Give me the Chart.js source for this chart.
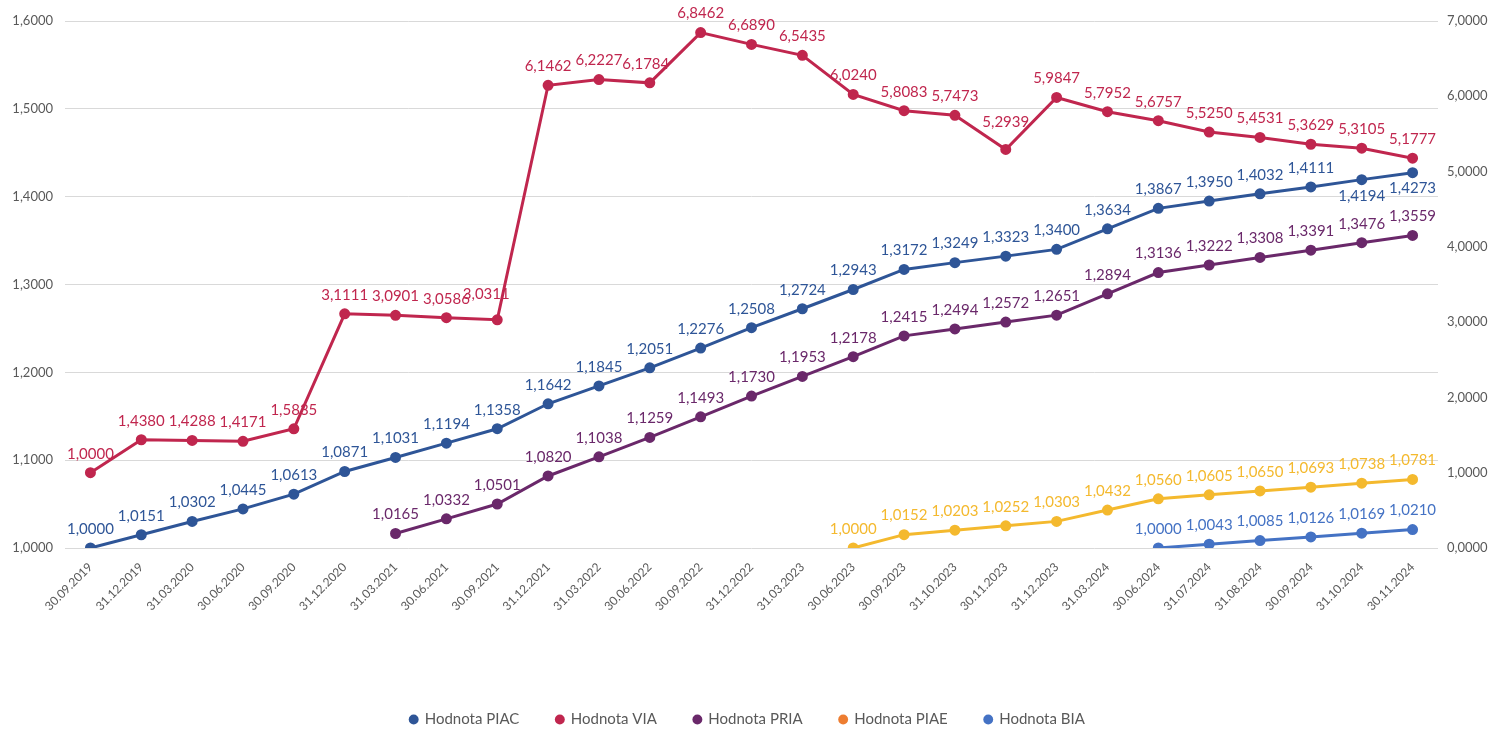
<!DOCTYPE html>
<html>
<head>
<meta charset="utf-8">
<script src="https://cdn.jsdelivr.net/npm/chart.js@4"></script>
<style>
  body { margin: 0; background: #fff; }
  .canvas { width: 1495px; height: 729px; }
</style>
</head>
<body>
<div class="canvas"><canvas id="chart"></canvas></div>
<script>
// data
const labels = [
  "30.09.2019", "31.12.2019", "31.03.2020", "30.06.2020", "30.09.2020",
  "31.12.2020", "31.03.2021", "30.06.2021", "30.09.2021", "31.12.2021",
  "31.03.2022", "30.06.2022", "30.09.2022", "31.12.2022", "31.03.2023",
  "30.06.2023", "30.09.2023", "31.10.2023", "30.11.2023", "31.12.2023",
  "31.03.2024", "30.06.2024", "31.07.2024", "31.08.2024", "30.09.2024",
  "31.10.2024", "30.11.2024",
];

const piac = [
  1.0000, 1.0151, 1.0302, 1.0445, 1.0613, 1.0871, 1.1031, 1.1194, 1.1358,
  1.1642, 1.1845, 1.2051, 1.2276, 1.2508, 1.2724, 1.2943, 1.3172, 1.3249,
  1.3323, 1.3400, 1.3634, 1.3867, 1.3950, 1.4032, 1.4111, 1.4194, 1.4273,
];

const via = [
  1.0000, 1.4380, 1.4288, 1.4171, 1.5835, 3.1111, 3.0901, 3.0586, 3.0311,
  6.1462, 6.2227, 6.1784, 6.8462, 6.6890, 6.5435, 6.0240, 5.8083, 5.7473,
  5.2939, 5.9847, 5.7952, 5.6757, 5.5250, 5.4531, 5.3629, 5.3105, 5.1777,
];

const pria = [
  null, null, null, null, null, null, 1.0165, 1.0332, 1.0501,
  1.0820, 1.1038, 1.1259, 1.1493, 1.1730, 1.1953, 1.2178, 1.2415, 1.2494,
  1.2572, 1.2651, 1.2894, 1.3136, 1.3222, 1.3308, 1.3391, 1.3476, 1.3559,
];

const piae = [
  null, null, null, null, null, null, null, null, null,
  null, null, null, null, null, null, 1.0000, 1.0152, 1.0203,
  1.0252, 1.0303, 1.0432, 1.0560, 1.0605, 1.0650, 1.0693, 1.0738, 1.0781,
];

const bia = [
  null, null, null, null, null, null, null, null, null,
  null, null, null, null, null, null, null, null, null,
  null, null, null, 1.0000, 1.0043, 1.0085, 1.0126, 1.0169, 1.0210,
];

const fmt = (v) => v.toFixed(4).replace(".", ",");

// a few labels excel moved away from the default spot
const labelShift = {
  "0:25": [0, 36],
  "0:26": [0, 34],
  "1:8": [-11, -7],
  "1:11": [-4, 0],
  "1:18": [0, -8],
};

const makeSet = (label, data, color, axis, legendColor) => ({
  label: label,
  data: data,
  borderColor: color,
  backgroundColor: color,
  pointBackgroundColor: color,
  pointBorderColor: color,
  legendColor: legendColor || color,
  borderWidth: 3,
  pointRadius: 4,
  pointHoverRadius: 4,
  tension: 0,
  yAxisID: axis,
});

// draw the value above each point
const valueLabels = {
  id: "valueLabels",
  afterDatasetsDraw(chart) {
    const ctx = chart.ctx;
    ctx.save();
    ctx.font = "15px Lato";
    ctx.textAlign = "center";
    ctx.textBaseline = "middle";
    chart.data.datasets.forEach((ds, di) => {
      const meta = chart.getDatasetMeta(di);
      meta.data.forEach((pt, i) => {
        const v = ds.data[i];
        if (v === null || v === undefined) return;
        const s = labelShift[di + ":" + i] || [0, 0];
        ctx.fillStyle = ds.borderColor;
        ctx.fillText(fmt(v), pt.x + s[0], pt.y - 19 + s[1]);
      });
    });
    ctx.restore();
  },
};

const config = {
  type: "line",
  data: {
    labels: labels,
    datasets: [
      makeSet("Hodnota PIAC", piac, "#2E5597", "y"),
      makeSet("Hodnota VIA", via, "#C0264E", "y1"),
      makeSet("Hodnota PRIA", pria, "#6A286A", "y"),
      makeSet("Hodnota PIAE", piae, "#F4B92E", "y", "#ED7D31"),
      makeSet("Hodnota BIA", bia, "#4472C4", "y"),
    ],
  },
  options: {
    responsive: true,
    maintainAspectRatio: false,
    animation: false,
    layout: { padding: { top: 21, left: 0, right: 0, bottom: -8 } },
    scales: {
      x: {
        offset: true,
        grid: { display: false },
        border: { display: false },
        ticks: {
          color: "#595959",
          font: { family: "Lato", size: 12 },
          minRotation: 45,
          maxRotation: 45,
          padding: 4,
        },
        afterFit: (scale) => { scale.height = 127; },
      },
      y: {
        position: "left",
        min: 1,
        max: 1.6,
        ticks: {
          stepSize: 0.1,
          color: "#595959",
          font: { family: "Lato", size: 13 },
          padding: 12,
          callback: (v) => fmt(v),
        },
        grid: { color: "#D9D9D9", drawTicks: false },
        border: { display: false },
        afterFit: (scale) => { scale.width = 65; },
      },
      y1: {
        position: "right",
        min: 0,
        max: 7,
        ticks: {
          stepSize: 1,
          color: "#595959",
          font: { family: "Lato", size: 13 },
          padding: 9,
          callback: (v) => fmt(v),
        },
        grid: { drawOnChartArea: false, drawTicks: false },
        border: { display: false },
        afterFit: (scale) => { scale.width = 57; },
      },
    },
    plugins: {
      legend: {
        display: true,
        position: "bottom",
        labels: {
          color: "#595959",
          font: { family: "Lato", size: 15 },
          usePointStyle: true,
          pointStyle: "circle",
          boxWidth: 7,
          boxHeight: 7,
          padding: 37,
          generateLabels: (chart) => {
            const items = Chart.defaults.plugins.legend.labels.generateLabels(chart);
            items.forEach((it) => {
              const ds = chart.data.datasets[it.datasetIndex];
              it.fillStyle = ds.legendColor;
              it.strokeStyle = ds.legendColor;
              it.lineWidth = 0;
            });
            return items;
          },
        },
      },
      tooltip: { enabled: false },
    },
  },
  plugins: [valueLabels],
};

const myChart = new Chart(document.getElementById("chart"), config);
</script>
</body>
</html>
